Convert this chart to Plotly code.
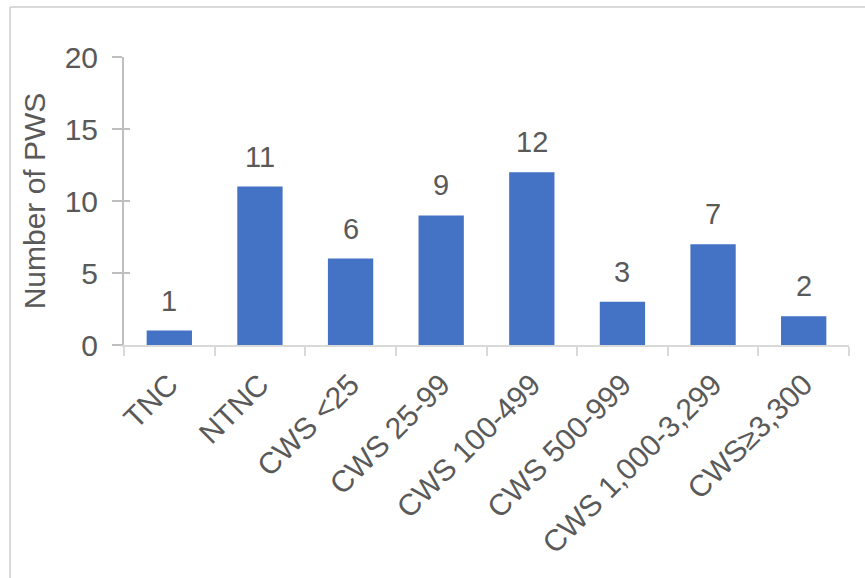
import plotly.graph_objects as go

# PWS counts by system type / size class
categories = ["TNC", "NTNC", "CWS <25", "CWS 25-99", "CWS 100-499",
              "CWS 500-999", "CWS 1,000-3,299", "CWS≥3,300"]
counts = [1, 11, 6, 9, 12, 3, 7, 2]
y_ticks = [0, 5, 10, 15, 20]

W, H = 865, 578
M_L, M_R, M_T, M_B = 124, 16, 57, 233
FONT = "Liberation Sans, Arial, sans-serif"
FS = 30
TXT = "#595959"
BAR = "#4472C4"

fig = go.Figure()
fig.add_trace(go.Bar(
    x=categories, y=counts,
    marker=dict(color=BAR, line=dict(width=0)),
    hoverinfo="x+y",
))

# value labels above each bar
for c, v in zip(categories, counts):
    fig.add_annotation(x=c, y=v, text=str(v), showarrow=False,
                       yanchor="bottom", yshift=12,
                       font=dict(family=FONT, size=FS - 1, color=TXT))

fig.update_layout(
    width=W, height=H,
    margin=dict(l=M_L, r=M_R, t=M_T, b=M_B),
    paper_bgcolor="white", plot_bgcolor="white",
    bargap=0.5, showlegend=False,
    font=dict(family=FONT, color=TXT),
    xaxis=dict(
        showgrid=False, showline=True, linecolor="#d9d9d9", linewidth=2,
        ticks="outside", tickson="boundaries", ticklen=9, tickwidth=2,
        tickcolor="#d9d9d9", tickangle=-45, ticklabelstandoff=8,
        tickfont=dict(family=FONT, size=FS, color=TXT),
    ),
    yaxis=dict(
        range=[0, 20], tickvals=y_ticks, showgrid=False, zeroline=False,
        showline=True, linecolor="#bfbfbf", linewidth=2,
        ticks="outside", ticklen=10, tickwidth=2, tickcolor="#bfbfbf",
        ticklabelstandoff=8,
        tickfont=dict(family=FONT, size=FS, color=TXT),
        title=dict(text="Number of PWS", standoff=10,
                   font=dict(family=FONT, size=FS, color=TXT)),
    ),
    # overlay axis supplies the inner half of the crossing y ticks
    yaxis2=dict(
        range=[0, 20], tickvals=y_ticks, overlaying="y", side="left",
        showgrid=False, zeroline=False, showline=False, showticklabels=False,
        ticks="inside", ticklen=6, tickwidth=2, tickcolor="#bfbfbf",
    ),
)
fig.add_trace(go.Scatter(x=[categories[0]], y=[0], yaxis="y2",
                         mode="markers", marker=dict(opacity=0),
                         hoverinfo="skip"))

# chart frame (top and left edges)
pw = W - M_L - M_R
ph = H - M_T - M_B
fx0 = (10 - M_L) / pw
fy1 = 1 + (M_T - 7) / ph
fig.add_shape(type="line", xref="paper", yref="paper",
              x0=fx0, x1=(W + 5 - M_L) / pw, y0=fy1, y1=fy1,
              line=dict(color="#d9d9d9", width=2))
fig.add_shape(type="line", xref="paper", yref="paper",
              x0=fx0, x1=fx0, y0=fy1, y1=-(M_B + 5) / ph,
              line=dict(color="#d9d9d9", width=2))

fig.write_html("out.html")
